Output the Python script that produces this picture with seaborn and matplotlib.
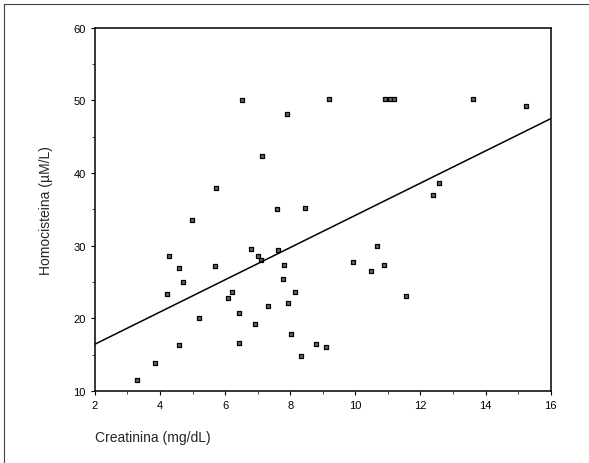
import numpy as np
import pandas as pd
import seaborn as sns
import matplotlib.pyplot as plt
from matplotlib.lines import Line2D
from matplotlib.ticker import MultipleLocator

# values
creatinina = [3.31, 3.86, 4.21, 4.29, 4.58, 4.59, 4.70, 4.99, 5.20, 5.70,
              5.72, 6.09, 6.20, 6.42, 6.44, 6.53, 6.81, 6.91, 7.00, 7.10,
              7.13, 7.32, 7.60, 7.61, 7.78, 7.82, 7.90, 7.92, 8.01, 8.14,
              8.32, 8.45, 8.80, 9.10, 9.19, 9.94, 10.47, 10.67, 10.88, 10.90,
              11.05, 11.20, 11.55, 12.39, 12.57, 13.62, 15.23]
homocisteina = [11.5, 13.9, 23.3, 28.6, 16.3, 26.9, 25.0, 33.5, 20.1, 27.2,
                38.0, 22.8, 23.6, 20.8, 16.6, 50.1, 29.5, 19.3, 28.6, 28.0,
                42.4, 21.7, 35.0, 29.4, 25.4, 27.4, 48.2, 22.1, 17.9, 23.6,
                14.8, 35.2, 16.5, 16.1, 50.2, 27.8, 26.5, 30.0, 27.4, 50.2,
                50.2, 50.2, 23.1, 37.0, 38.6, 50.2, 49.2]
x_ticks = [2, 4, 6, 8, 10, 12, 14, 16]
y_ticks = [10, 20, 30, 40, 50, 60]

df = pd.DataFrame({"creatinina": creatinina, "homocisteina": homocisteina})

sns.set_style("white")
plt.rcParams["font.family"] = ["Liberation Sans", "DejaVu Sans"]

fig = plt.figure(figsize=(5.89, 4.64), dpi=100)
ax = fig.add_axes([0.161, 0.155, 0.774, 0.783])
ax.set_xlim(2, 16)
ax.set_ylim(10, 60)

sns.regplot(data=df, x="creatinina", y="homocisteina", ax=ax, ci=None,
            truncate=False, marker="s",
            scatter_kws=dict(s=12, color="#666666",
                             edgecolors="black", linewidths=0.9, alpha=1),
            line_kws=dict(color="black", lw=1.1))

ax.set_xlim(2, 16)
ax.set_ylim(10, 60)
ax.set_xticks(x_ticks)
ax.set_yticks(y_ticks)
ax.xaxis.set_minor_locator(MultipleLocator(1))
ax.yaxis.set_minor_locator(MultipleLocator(5))
ax.tick_params(which="major", direction="out", length=3, width=0.8,
               labelsize=8, colors="black", bottom=True, left=True)
ax.tick_params(which="minor", direction="out", length=2, width=0.6,
               bottom=True, left=True)
for sp in ax.spines.values():
    sp.set_color("black")
    sp.set_linewidth(1.1)

ax.set_xlabel("")
ax.set_ylabel("Homocisteina (µM/L)", fontsize=10, labelpad=15)
fig.text(0.161, 0.055, "Creatinina (mg/dL)", fontsize=10, ha="left", va="center")

# outer frame of the figure panel
fig.add_artist(Line2D([0.007, 1.0], [0.99, 0.99], color="#444444", lw=0.8))
fig.add_artist(Line2D([0.007, 0.007], [0.0, 0.99], color="#444444", lw=0.8))

fig.savefig("out.png", dpi=100)
